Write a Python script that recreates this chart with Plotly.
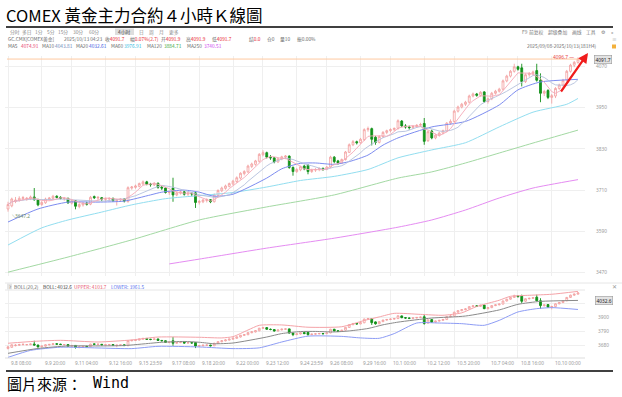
import plotly.graph_objects as go
import pandas as pd

W, H = 622, 397

# ---------------- data (4-hour bars) ----------------
opens = [3655, 3664, 3677, 3680, 3685, 3684, 3685, 3690, 3682, 3668,
         3673, 3683, 3686, 3692, 3689, 3685, 3686, 3672, 3679, 3662,
         3667, 3672, 3669, 3691, 3687, 3688, 3683, 3684, 3686, 3679,
         3681, 3684, 3677, 3716, 3718, 3721, 3728, 3734, 3727, 3725,
         3730, 3718, 3716, 3703, 3716, 3696, 3701, 3705, 3698, 3701,
         3702, 3674, 3676, 3680, 3682, 3676, 3695, 3708, 3715, 3721,
         3728, 3735, 3745, 3758, 3763, 3779, 3785, 3794, 3813, 3819,
         3806, 3804, 3792, 3801, 3806, 3809, 3776, 3764, 3769, 3780,
         3782, 3764, 3768, 3770, 3773, 3771, 3777, 3806, 3795, 3789,
         3799, 3820, 3842, 3851, 3848, 3857, 3886, 3889, 3864, 3849,
         3866, 3878, 3883, 3886, 3890, 3911, 3897, 3894, 3892, 3895,
         3899, 3904, 3854, 3882, 3862, 3870, 3876, 3882, 3905, 3910,
         3940, 3952, 3960, 3966, 3984, 3990, 3986, 3996, 3968, 3976,
         3992, 3998, 4004, 4028, 4042, 4056, 4069, 4066, 4026, 4046,
         4049, 4058, 4030, 3992, 4000, 3980, 3984, 4006, 4016, 4030,
         4056, 4074, 4082]
highs = [3676, 3688, 3690, 3692, 3693, 3690, 3694, 3716, 3685, 3678,
         3688, 3690, 3696, 3695, 3692, 3690, 3688, 3682, 3681, 3672,
         3675, 3676, 3693, 3694, 3692, 3690, 3688, 3689, 3688, 3684,
         3686, 3686, 3721, 3722, 3726, 3732, 3738, 3737, 3731, 3733,
         3732, 3722, 3718, 3708, 3746, 3706, 3708, 3708, 3705, 3704,
         3704, 3681, 3684, 3686, 3684, 3700, 3712, 3720, 3726, 3732,
         3740, 3750, 3762, 3768, 3784, 3790, 3798, 3818, 3826, 3822,
         3812, 3806, 3804, 3810, 3812, 3811, 3779, 3774, 3781, 3784,
         3786, 3772, 3774, 3776, 3776, 3780, 3810, 3809, 3798, 3802,
         3824, 3846, 3856, 3854, 3862, 3890, 3895, 3892, 3868, 3870,
         3882, 3886, 3890, 3892, 3916, 3914, 3902, 3898, 3898, 3902,
         3906, 3920, 3884, 3886, 3874, 3880, 3886, 3908, 3916, 3944,
         3956, 3964, 3970, 3988, 3994, 3993, 3998, 3998, 3980, 3996,
         4002, 4008, 4032, 4046, 4060, 4078, 4072, 4078, 4050, 4054,
         4058, 4078, 4050, 4002, 4004, 3990, 4010, 4020, 4034, 4060,
         4078, 4086, 4096.7]
lows = [3647.2, 3660, 3672, 3676, 3680, 3679, 3681, 3679, 3663, 3664,
        3670, 3679, 3682, 3686, 3683, 3679, 3670, 3668, 3654, 3657,
        3662, 3665, 3666, 3684, 3680, 3678, 3677, 3678, 3676, 3665,
        3676, 3674, 3673, 3711, 3714, 3718, 3724, 3724, 3720, 3722,
        3714, 3710, 3700, 3696, 3676, 3692, 3697, 3694, 3693, 3692,
        3658, 3668, 3672, 3674, 3672, 3674, 3692, 3704, 3711, 3718,
        3724, 3731, 3741, 3753, 3760, 3774, 3781, 3790, 3808, 3802,
        3798, 3788, 3789, 3797, 3800, 3772, 3752, 3760, 3765, 3768,
        3756, 3760, 3763, 3765, 3766, 3768, 3774, 3788, 3784, 3786,
        3796, 3818, 3838, 3843, 3845, 3853, 3880, 3840, 3842, 3846,
        3862, 3873, 3878, 3882, 3886, 3893, 3889, 3886, 3888, 3891,
        3894, 3842, 3850, 3858, 3858, 3866, 3872, 3879, 3900, 3906,
        3936, 3948, 3955, 3962, 3980, 3982, 3982, 3964, 3962, 3972,
        3988, 3994, 4000, 4024, 4038, 4052, 4058, 4012, 4022, 4040,
        4044, 4026, 3966, 3984, 3975, 3962, 3978, 4002, 4012, 4026,
        4052, 4068, 4078]
closes = [3668, 3684, 3681, 3686, 3688, 3686, 3690, 3682, 3667, 3674,
          3684, 3687, 3692, 3689, 3686, 3686, 3673, 3679, 3663, 3668,
          3672, 3669, 3689, 3688, 3689, 3684, 3685, 3686, 3679, 3682,
          3684, 3678, 3717, 3719, 3722, 3729, 3734, 3727, 3726, 3730,
          3718, 3716, 3703, 3704, 3696, 3702, 3705, 3698, 3701, 3699,
          3674, 3677, 3681, 3682, 3676, 3696, 3709, 3716, 3722, 3729,
          3736, 3746, 3759, 3764, 3780, 3786, 3795, 3814, 3819, 3806,
          3804, 3792, 3801, 3807, 3809, 3776, 3764, 3770, 3778, 3772,
          3764, 3768, 3770, 3773, 3771, 3777, 3806, 3793, 3789, 3799,
          3821, 3842, 3851, 3848, 3858, 3886, 3889, 3858, 3849, 3866,
          3878, 3883, 3886, 3890, 3912, 3897, 3894, 3892, 3895, 3899,
          3901, 3852, 3880, 3862, 3870, 3876, 3883, 3905, 3910, 3940,
          3952, 3960, 3966, 3984, 3990, 3986, 3995, 3968, 3976, 3992,
          3998, 4004, 4028, 4042, 4056, 4069, 4062, 4026, 4046, 4049,
          4054, 4030, 3992, 3997, 3980, 3985, 4006, 4016, 4030, 4056,
          4074, 4082, 4091.7]
assert len(opens) == len(highs) == len(lows) == len(closes)

# slow moving averages / bands (bar index, value)
ma20_bars = [0, 8, 16, 24, 31, 38, 41, 47, 51, 55, 60, 69, 73, 78, 82, 87, 91, 96, 100, 104, 113, 122, 131, 136, 142, 152]
ma20_vals = [3617, 3655, 3675, 3675, 3678, 3696, 3704, 3710, 3704, 3692, 3698, 3745, 3772, 3788, 3789, 3785, 3793, 3812, 3841, 3862, 3894, 3910, 3958, 4002, 4025, 4032.6]
ma60_bars = [0, 9, 16, 25, 33, 42, 51, 60, 69, 78, 87, 96, 104, 113, 122, 131, 140, 149, 152]
ma60_vals = [3550, 3600, 3623, 3646, 3667, 3685, 3694, 3703, 3719, 3738, 3750, 3770, 3804, 3827, 3848, 3894, 3937, 3960, 3976.9]
ma120_bars = [0, 16, 33, 51, 69, 87, 104, 113, 122, 131, 140, 152]
ma120_vals = [3471, 3515, 3565, 3623, 3661, 3696, 3745, 3763, 3789, 3818, 3847, 3884.7]
ma250_bars = [43, 51, 69, 87, 104, 113, 122, 131, 140, 152]
ma250_vals = [3495, 3509, 3541, 3570, 3602, 3623, 3652, 3687, 3716, 3740.5]
upper_bars = [0, 7, 14, 24, 33, 40, 51, 57, 60, 64, 67, 73, 80, 89, 95, 99, 103, 110, 116, 121, 125, 131, 134, 139, 145, 152]
upper_vals = [3696, 3711, 3719, 3706, 3722, 3745, 3743, 3738, 3748, 3800, 3837, 3840, 3822, 3826, 3875, 3903, 3931, 3923, 3916, 3935, 3985, 4034, 4065, 4073, 4081, 4103.7]
lower_bars = [0, 6, 14, 24, 33, 40, 51, 60, 67, 73, 80, 89, 94, 99, 103, 109, 115, 121, 127, 131, 136, 141, 145, 152]
lower_vals = [3585, 3640, 3665, 3659, 3654, 3672, 3667, 3654, 3660, 3706, 3752, 3750, 3738, 3735, 3772, 3855, 3855, 3850, 3837, 3876, 3942, 3968, 3976, 3961.5]

tick_bars = [0, 9, 17, 26, 34, 43, 51, 60, 68, 77, 85, 94, 102, 111, 119, 128, 136, 145]
tick_labels = ["9.8 08:00", "9.9 20:00", "9.11 04:00", "9.12 16:00", "9.15 23:59", "9.17 08:00",
               "9.18 20:00", "9.22 00:00", "9.23 12:00", "9.24 23:59", "9.26 08:00", "9.29 16:00",
               "10.1 00:00", "10.2 12:00", "10.5 20:00", "10.7 04:00", "10.8 16:00", "10.10 00:00"]
main_ticks = [3470, 3590, 3710, 3830, 3950, 4070]
boll_ticks = [3680, 3790, 3900, 4010]
boll_ticktext = ["3680", "3790", "3900", ""]

last_price = 4091.7
max_high = 4096.7
min_low = 3647.2

# ---------------- figure ----------------
bars = list(range(len(closes)))
ma5 = pd.Series(closes).rolling(5, min_periods=1).mean()
ma10 = pd.Series(closes).rolling(10, min_periods=1).mean()

UP_LINE = "#f39c9c"
DN_LINE = "#13901a"
SMALL = "Noto Sans CJK SC, Noto Sans, sans-serif"
FS = 4.8

fig = go.Figure()

def line(xs, ys, color, xa="x", ya="y", width=1):
    fig.add_trace(go.Scatter(x=xs, y=ys, mode="lines", xaxis=xa, yaxis=ya,
                             line=dict(color=color, width=width, shape="spline", smoothing=0.6),
                             hoverinfo="skip"))

line(ma250_bars, ma250_vals, "#e58cf2")
line(ma120_bars, ma120_vals, "#a3d9a3")
line(ma60_bars, ma60_vals, "#92def0")
line(ma20_bars, ma20_vals, "#7d8cf0")
fig.add_trace(go.Scatter(x=bars, y=ma10, mode="lines", line=dict(color="#b3c0dc", width=0.9), hoverinfo="skip"))
fig.add_trace(go.Scatter(x=bars, y=ma5, mode="lines", line=dict(color="#f5a9b8", width=0.9), hoverinfo="skip"))

for xa, ya in (("x", "y"), ("x2", "y2")):
    fig.add_trace(go.Candlestick(
        x=bars, open=opens, high=highs, low=lows, close=closes, xaxis=xa, yaxis=ya,
        increasing=dict(line=dict(color=UP_LINE, width=0.8), fillcolor="white"),
        decreasing=dict(line=dict(color=DN_LINE, width=0.9), fillcolor="#10961a"),
        whiskerwidth=0, hoverinfo="skip"))

line(lower_bars, lower_vals, "#8d9cf5", "x2", "y2")
line(upper_bars, upper_vals, "#f5a3a8", "x2", "y2")
line(ma20_bars, ma20_vals, "#8a8a8a", "x2", "y2")

# pixel helpers
def fx(px):
    return px / W

def fy(py):
    return 1 - py / H

XL, XR = 5, 585
main_top, main_bot = 56, 276
boll_top, boll_bot = 290, 358
x_range = [-0.8, 153.87]

def ylin(p0, v0, p1, v1, ptop, pbot):
    k = (v1 - v0) / (p1 - p0)
    return [v0 + (pbot - p0) * k, v0 + (ptop - p0) * k]

tickfont = dict(size=FS, color="#9a9a9a", family="Noto Sans")
axis_common = dict(showline=False, zeroline=False, gridcolor="#efefef", gridwidth=1)
fig.update_layout(
    width=W, height=H, margin=dict(l=0, r=0, t=0, b=0),
    paper_bgcolor="white", plot_bgcolor="white", showlegend=False,
    xaxis=dict(domain=[fx(XL), fx(XR)], range=x_range, anchor="y", tickvals=tick_bars,
               showticklabels=False, rangeslider=dict(visible=False), **axis_common),
    xaxis2=dict(domain=[fx(XL), fx(XR)], range=x_range, anchor="y2", tickvals=tick_bars,
                showticklabels=False, rangeslider=dict(visible=False), **axis_common),
    yaxis=dict(domain=[fy(main_bot), fy(main_top)], range=ylin(66.5, 4070, 272.5, 3470, main_top, main_bot),
               side="right", tickvals=main_ticks, ticks="outside", ticklen=9, tickcolor="rgba(0,0,0,0)",
               tickfont=tickfont, **axis_common),
    yaxis2=dict(domain=[fy(boll_bot), fy(boll_top)], range=ylin(317.3, 3900, 345.3, 3680, boll_top, boll_bot),
                side="right", tickvals=boll_ticks, ticktext=boll_ticktext, ticks="outside", ticklen=11,
                tickcolor="rgba(0,0,0,0)", tickfont=tickfont, **axis_common),
)

shapes = []
def hline(y, x0, x1, color, width):
    shapes.append(dict(type="line", xref="paper", yref="paper", x0=fx(x0), x1=fx(x1), y0=fy(y), y1=fy(y),
                       line=dict(color=color, width=width)))

hline(27, 6, 613, "black", 1.6)
hline(371, 6, 613, "black", 1.6)
hline(283, 5, 622, "#e6e6e6", 1)
hline(boll_top, XL, XR, "#e6e6e6", 1)
hline(boll_bot, XL, XR, "#dddddd", 1)
# last price line
shapes.append(dict(type="line", xref="paper", yref="y", x0=fx(7), x1=fx(XR - 2), y0=last_price, y1=last_price,
                   line=dict(color="#ffc9a0", width=1)))
# toolbar highlight and small boxes
shapes.append(dict(type="rect", xref="paper", yref="paper", x0=fx(115), x1=fx(134), y0=fy(35), y1=fy(28.5),
                   fillcolor="#dedede", line=dict(width=0), layer="below"))
shapes.append(dict(type="rect", xref="paper", yref="paper", x0=fx(7), x1=fx(12), y0=fy(289.5), y1=fy(283.5),
                   fillcolor="#e6e6e6", line=dict(width=0), layer="below"))
shapes.append(dict(type="rect", xref="paper", yref="paper", x0=fx(612), x1=fx(616), y0=fy(48.5), y1=fy(44.5),
                   fillcolor="#f3b13c", line=dict(width=0)))
fig.update_layout(shapes=shapes)

def T(text, x, y, size=FS, color="#707070", family=SMALL, xanchor="left", yanchor="middle", **kw):
    fig.add_annotation(text=text, x=fx(x), y=fy(y), xref="paper", yref="paper", showarrow=False,
                       xanchor=xanchor, yanchor=yanchor, font=dict(size=size, color=color, family=family),
                       borderpad=0, **kw)

# title and footer
T("COMEX 黃金主力合約４小時Ｋ線圖", 5, 15, size=16.5, color="black", family="Noto Sans CJK TC")
T("圖片來源：", 6, 383, size=15, color="black", family="Noto Sans CJK TC")
T("Wind", 92, 383, size=15, color="black", family="DejaVu Sans Mono")

# toolbar
RED = "#e8262d"
for txt, x in [("分时", 9), ("多日", 21), ("1分", 34), ("5分", 46), ("15分", 57), ("30分", 72),
               ("60分", 88), ("4小时", 117), ("日", 138), ("周", 148), ("月", 158), ("更多", 168)]:
    T(txt, x, 31.7, color="#444" if txt == "4小时" else "#8a8a8a")
for txt, x in [("F9", 521), ("前复权", 528), ("超级叠加", 547), ("画线", 571), ("工具", 585), ("⚙", 600), ("»", 610)]:
    T(txt, x, 31.7, color="#7a7a7a")
T("≡", 611, 38.5, color="#9a9a9a")

# info row
R = lambda s: f"<span style='color:{RED}'>{s}</span>"
for txt, x in [("GC.CMX[COMEX黄金]", 7), ("2025/10/13 04:23", 63), ("收" + R("4091.7"), 104),
               ("幅" + R("0.07%(2.7)"), 129), ("开" + R("4091.9"), 160), ("高" + R("4091.9"), 185),
               ("低" + R("4091.7"), 211), ("结" + R("0.0"), 248), ("仓0", 266), ("量10", 279), ("振0.00%", 296)]:
    T(txt, x, 38.5, color="#6a6a6a")
T("2025/09/08-2025/10/13(181H4)", 526, 46, color="#6a6a6a")

# MA row
for txt, x, col in [("MA5", 7, "#6a6a6a"), ("4074.91", 20, "#e63e6d"), ("MA10", 41, "#6a6a6a"),
                    ("4043.81", 54, "#6b86b8"), ("MA20", 75, "#6a6a6a"), ("4032.61", 88, "#3d57e0"),
                    ("MA60", 110, "#6a6a6a"), ("3976.91", 123, "#2fb8dd"), ("MA120", 146, "#6a6a6a"),
                    ("3884.71", 163, "#3aa63a"), ("MA250", 186, "#6a6a6a"), ("3740.51", 203, "#cc44ee")]:
    T(txt, x, 46, color=col)

# BOLL header
T("?", 8, 286.5, size=4.5, color="#666")
for txt, x, col in [("BOLL(20,2)", 13, "#6a6a6a"), ("BOLL: 4032.6", 42, "#444444"),
                    ("UPPER: 4103.7", 73, "#e8566a"), ("LOWER: 3961.5", 110, "#5b73ee")]:
    T(txt, x, 286.5, color=col)
T("✕", 611, 287, size=5.5, color="#9a9a9a")

# date labels under the lower panel
for b, lab in zip(tick_bars, tick_labels):
    fig.add_annotation(text=lab, x=b, y=fy(362.5), xref="x2", yref="paper", showarrow=False,
                       xanchor="left", yanchor="middle", xshift=1,
                       font=dict(size=FS, color="#9a9a9a", family="Noto Sans"))

# price boxes on the right
fig.add_annotation(text="4091.7", x=fx(594), y=last_price, xref="paper", yref="y", showarrow=False,
                   xanchor="left", yanchor="middle", font=dict(size=FS, color="#222", family="Noto Sans"),
                   bgcolor="#e3e3e3", bordercolor="#9a9a9a", borderwidth=0.6, borderpad=1)
fig.add_annotation(text="4032.6", x=fx(595), y=ma20_vals[-1], xref="paper", yref="y2", showarrow=False,
                   xanchor="left", yanchor="middle", font=dict(size=FS, color="#222", family="Noto Sans"),
                   bgcolor="#e3e3e3", bordercolor="#9a9a9a", borderwidth=0.6, borderpad=1)

# extremes
fig.add_annotation(text="4096.7 —", x=bars[-1], y=max_high, xref="x", yref="y", showarrow=False,
                   xanchor="right", yanchor="middle", xshift=-2,
                   font=dict(size=FS, color="#e84a4a", family="Noto Sans"))
fig.add_annotation(text="⟍3647.2", x=bars[0], y=min_low, xref="x", yref="y", showarrow=False,
                   xanchor="left", yanchor="top", xshift=2, yshift=1,
                   font=dict(size=FS, color="#6f8f6f", family="Noto Sans"))

# red hand-drawn arrow
fig.add_annotation(text="", x=fx(588), y=fy(53), xref="paper", yref="paper", showarrow=True,
                   ax=-28, ay=40, arrowcolor="#f01c1c", arrowwidth=2.2, arrowhead=2, arrowsize=0.9, standoff=0)

fig.write_html("out.html", config={"displayModeBar": False, "staticPlot": True},
               post_script="document.body.style.margin='0px';")
